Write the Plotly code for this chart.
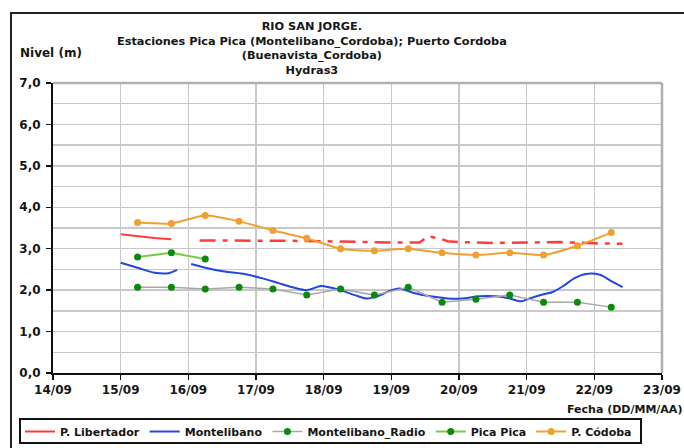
import plotly.graph_objects as go

# ---------------- data ----------------
title_lines = ["RIO SAN JORGE.",
               "Estaciones Pica Pica (Montelibano_Cordoba); Puerto Cordoba",
               "(Buenavista_Cordoba)",
               "Hydras3"]

lib_t1 = ["2023-09-15 00:00", "2023-09-15 06:00", "2023-09-15 12:00", "2023-09-15 18:00"]
lib_v1 = [3.35, 3.30, 3.26, 3.23]
lib_t2 = ["2023-09-16 04:00", "2023-09-16 12:00", "2023-09-17 00:00", "2023-09-17 12:00",
          "2023-09-18 00:00", "2023-09-18 12:00", "2023-09-19 00:00", "2023-09-19 10:00",
          "2023-09-19 13:00", "2023-09-19 17:00", "2023-09-19 20:00", "2023-09-20 00:00",
          "2023-09-20 12:00", "2023-09-21 00:00", "2023-09-21 12:00", "2023-09-22 00:00",
          "2023-09-22 10:00"]
lib_v2 = [3.20, 3.20, 3.20, 3.19, 3.18, 3.16, 3.15, 3.15, 3.30, 3.25, 3.18, 3.16,
          3.14, 3.15, 3.16, 3.13, 3.12]

mon_t = ["2023-09-15 00:00", "2023-09-15 06:00", "2023-09-15 12:00", "2023-09-15 17:00",
         "2023-09-15 20:00", "2023-09-16 00:00", "2023-09-16 01:00", "2023-09-16 08:00",
         "2023-09-16 14:00", "2023-09-16 20:00", "2023-09-17 02:00", "2023-09-17 08:00",
         "2023-09-17 13:00", "2023-09-17 18:00", "2023-09-17 23:00", "2023-09-18 02:00",
         "2023-09-18 06:00", "2023-09-18 11:00", "2023-09-18 15:00", "2023-09-18 19:00",
         "2023-09-19 00:00", "2023-09-19 03:00", "2023-09-19 08:00", "2023-09-19 14:00",
         "2023-09-19 20:00", "2023-09-20 01:00", "2023-09-20 07:00", "2023-09-20 13:00",
         "2023-09-20 18:00", "2023-09-20 22:00", "2023-09-21 01:00", "2023-09-21 06:00",
         "2023-09-21 09:00", "2023-09-21 13:00", "2023-09-21 17:00", "2023-09-21 21:00",
         "2023-09-22 02:00", "2023-09-22 06:00", "2023-09-22 10:00"]
mon_v = [2.66, 2.54, 2.42, 2.41, 2.49, None, 2.63, 2.51, 2.44, 2.39, 2.29, 2.17,
         2.07, 2.00, 2.10, 2.07, 2.00, 1.88, 1.80, 1.85, 2.00, 2.04, 1.93, 1.85,
         1.80, 1.80, 1.85, 1.85, 1.80, 1.73, 1.80, 1.90, 1.95, 2.10, 2.29, 2.39,
         2.37, 2.22, 2.07]

obs_t = ["2023-09-15 06:00", "2023-09-15 18:00", "2023-09-16 06:00", "2023-09-16 18:00",
         "2023-09-17 06:00", "2023-09-17 18:00", "2023-09-18 06:00", "2023-09-18 18:00",
         "2023-09-19 06:00", "2023-09-19 18:00", "2023-09-20 06:00", "2023-09-20 18:00",
         "2023-09-21 06:00", "2023-09-21 18:00", "2023-09-22 06:00"]
radio_v = [2.07, 2.07, 2.03, 2.07, 2.03, 1.88, 2.03, 1.88, 2.07, 1.71, 1.78, 1.88,
           1.71, 1.71, 1.59]
cordoba_v = [3.63, 3.61, 3.80, 3.66, 3.44, 3.25, 3.00, 2.95, 3.00, 2.90, 2.85, 2.90,
             2.85, 3.07, 3.39]
pica_t = ["2023-09-15 06:00", "2023-09-15 18:00", "2023-09-16 06:00"]
pica_v = [2.80, 2.90, 2.75]

x_ticks = ["2023-09-%02d" % d for d in range(14, 24)]
x_labels = ["%02d/09" % d for d in range(14, 24)]
y_ticks = [0, 1, 2, 3, 4, 5, 6, 7]
y_labels = [("%.1f" % v).replace(".", ",") for v in y_ticks]

# ---------------- figure ----------------
FONT = "DejaVu Sans, Arial, sans-serif"
FS = 12
TXT = "#161616"
RED = "#ff3b3b"
BLUE = "#2246e0"
GRAY = "#a8a8a8"
DKGREEN = "#0a8a0a"
LTGREEN = "#77cc44"
ORANGE = "#f0a030"

def b(s):
    return "<b>%s</b>" % s

fig = go.Figure()
fig.add_trace(go.Scatter(x=lib_t1, y=lib_v1, mode="lines", name=b("P. Libertador"),
                         legendgroup="lib", line=dict(color=RED, width=2)))
fig.add_trace(go.Scatter(x=lib_t2, y=lib_v2, mode="lines", name=b("P. Libertador"),
                         legendgroup="lib", showlegend=False,
                         line=dict(color=RED, width=2.5, dash="16px,7px,5px,7px")))
fig.add_trace(go.Scatter(x=mon_t, y=mon_v, mode="lines", name=b("Montelibano"),
                         connectgaps=False,
                         line=dict(color=BLUE, width=2, shape="spline", smoothing=0.8)))
fig.add_trace(go.Scatter(x=obs_t, y=radio_v, mode="lines+markers", name=b("Montelibano_Radio"),
                         line=dict(color=GRAY, width=1.5),
                         marker=dict(color=DKGREEN, size=7)))
fig.add_trace(go.Scatter(x=pica_t, y=pica_v, mode="lines+markers", name=b("Pica Pica"),
                         line=dict(color=LTGREEN, width=2),
                         marker=dict(color=DKGREEN, size=7)))
fig.add_trace(go.Scatter(x=obs_t, y=cordoba_v, mode="lines+markers", name=b("P. Códoba"),
                         line=dict(color=ORANGE, width=2, shape="spline", smoothing=0.6),
                         marker=dict(color=ORANGE, size=7)))

L, R, T, B = 53, 22, 83, 75
W, H = 684, 448
pw, ph = W - L - R, H - T - B

def px2paper_x(px):
    return (px - L) / pw

def px2paper_y(py):
    return (H - B - py) / ph

annotations = [
    dict(text="<br>".join(b(s) for s in title_lines), x=px2paper_x(312), y=px2paper_y(18),
         xref="paper", yref="paper", xanchor="center", yanchor="top",
         showarrow=False, align="center",
         font=dict(family=FONT, size=11.3, color=TXT)),
    dict(text=b("Nivel (m)"), x=px2paper_x(18), y=px2paper_y(53),
         xref="paper", yref="paper", xanchor="left", yanchor="middle",
         showarrow=False, font=dict(family=FONT, size=FS, color=TXT)),
    dict(text=b("Fecha (DD/MM/AA)"), x=px2paper_x(684), y=px2paper_y(409),
         xref="paper", yref="paper", xanchor="right", yanchor="middle",
         showarrow=False, font=dict(family=FONT, size=11, color=TXT)),
]

shapes = [
    # outer chart frame (extends past the right/bottom edges as in the reference)
    dict(type="rect", xref="paper", yref="paper",
         x0=px2paper_x(11), x1=px2paper_x(700), y0=px2paper_y(470), y1=px2paper_y(13),
         line=dict(color="#222", width=2), fillcolor="rgba(0,0,0,0)", layer="below"),
    # legend box
    dict(type="rect", xref="paper", yref="paper",
         x0=px2paper_x(20), x1=px2paper_x(641), y0=px2paper_y(443), y1=px2paper_y(419),
         line=dict(color="#111", width=2), fillcolor="rgba(0,0,0,0)", layer="below"),
    # grey plot-area border (top and right)
    dict(type="line", xref="paper", yref="paper", x0=0, x1=1, y0=1, y1=1,
         line=dict(color="#b0b0b0", width=2.5)),
    dict(type="line", xref="paper", yref="paper", x0=1, x1=1, y0=0, y1=1,
         line=dict(color="#b0b0b0", width=2.5)),
]

fig.update_layout(
    width=W, height=H,
    margin=dict(l=L, r=R, t=T, b=B, pad=0, autoexpand=False),
    paper_bgcolor="white", plot_bgcolor="white",
    font=dict(family=FONT, size=FS, color=TXT),
    annotations=annotations,
    shapes=shapes,
    showlegend=True,
    legend=dict(orientation="h", x=px2paper_x(20), y=px2paper_y(417),
                xanchor="left", yanchor="top",
                borderwidth=0, bgcolor="rgba(0,0,0,0)",
                font=dict(family=FONT, size=11, color=TXT),
                itemwidth=30, tracegroupgap=0,
                traceorder="normal"),
    xaxis=dict(type="date", range=["2023-09-14", "2023-09-23"],
               tickvals=x_ticks, ticktext=[b(s) for s in x_labels],
               showgrid=True, gridcolor="#c8c8c8", gridwidth=1.5,
               showline=True, linecolor="#111", linewidth=2,
               ticks="outside", ticklen=5, tickcolor="#111", tickwidth=1.5,
               tickfont=dict(family=FONT, size=FS, color=TXT),
               automargin=False, zeroline=False, fixedrange=True),
    yaxis=dict(range=[0, 7], tickvals=y_ticks, ticktext=[b(s) for s in y_labels],
               showgrid=True, gridcolor="#c8c8c8", gridwidth=1.5,
               minor=dict(dtick=0.5, showgrid=True, gridcolor="#c8c8c8", gridwidth=1.5,
                          ticks=""),
               showline=True, linecolor="#111", linewidth=2,
               ticks="outside", ticklen=5, tickcolor="#111", tickwidth=1.5,
               ticklabelstandoff=3,
               tickfont=dict(family=FONT, size=FS, color=TXT),
               automargin=False, zeroline=False, fixedrange=True),
)

fig.write_html("out.html",
               config={"displayModeBar": False, "staticPlot": True},
               post_script="document.body.style.margin='0';"
                           "document.body.style.overflow='hidden';")
